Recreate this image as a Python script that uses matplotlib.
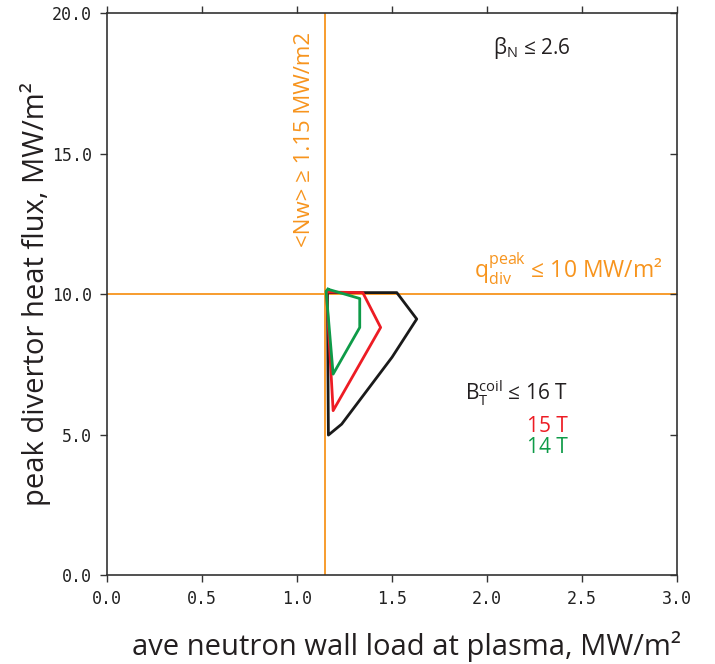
import numpy as np
import matplotlib.pyplot as plt

plt.rcParams['font.family'] = ['Open Sans', 'DejaVu Sans']
plt.rcParams['mathtext.fontset'] = 'custom'
plt.rcParams['mathtext.rm'] = 'Open Sans'
plt.rcParams['mathtext.it'] = 'Open Sans'

# operating-space boundaries (x: wall load, y: divertor heat flux)
bt16_x = [1.16, 1.525, 1.63, 1.50, 1.235, 1.165, 1.16]
bt16_y = [10.05, 10.05, 9.11, 7.75, 5.37, 4.98, 10.05]
bt15_x = [1.155, 1.346, 1.44, 1.19, 1.155]
bt15_y = [10.07, 10.05, 8.81, 5.85, 10.07]
bt14_x = [1.163, 1.33, 1.33, 1.19, 1.153, 1.163]
bt14_y = [10.17, 9.84, 8.81, 7.15, 10.10, 10.17]

nw_limit = 1.145
qdiv_limit = 10.0
xticks = [0.0, 0.5, 1.0, 1.5, 2.0, 2.5, 3.0]
yticks = [0.0, 5.0, 10.0, 15.0, 20.0]

orange = "#F7941D"
red = "#ED1C24"
green = "#0E9B48"

fig = plt.figure(figsize=(7.15, 6.64), dpi=100)
ax = fig.add_axes([0.1497, 0.1340, 0.7972, 0.8464])

ax.axvline(nw_limit, color=orange, lw=1.3, zorder=1)
ax.axhline(qdiv_limit, color=orange, lw=1.3, zorder=1)

ax.plot(bt16_x, bt16_y, color="#1a1a1a", lw=2.0, zorder=3)
ax.plot(bt15_x, bt15_y, color=red, lw=2.0, zorder=3)
ax.plot(bt14_x, bt14_y, color=green, lw=2.0, zorder=4)

ax.set_xlim(0, 3)
ax.set_ylim(0, 20)
ax.set_xticks(xticks)
ax.set_yticks(yticks)
ax.set_xticklabels([f"{v:.1f}" for v in xticks], family="DejaVu Sans Mono",
                   fontsize=12, color="#222222")
ax.set_yticklabels([f"{v:.1f}" for v in yticks], family="DejaVu Sans Mono",
                   fontsize=12, color="#222222")
ax.tick_params(axis="both", which="both", direction="out", length=5,
               width=1.0, color="#333333", pad=6)
ax.tick_params(axis="x", top=True)
ax.tick_params(axis="y", right=True)
for t in ax.yaxis.get_major_ticks():
    t.tick2line.set_marker(0)  # right ticks point inward
for s in ax.spines.values():
    s.set_color("#333333")
    s.set_linewidth(1.2)

ax.set_xlabel("ave neutron wall load at plasma, MW/m²", fontsize=21,
              color="#231f20", va="center")
ax.set_ylabel("peak divertor heat flux, MW/m²", fontsize=21,
              color="#231f20", va="center")
ax.xaxis.set_label_coords(0.526, -0.128)
ax.yaxis.set_label_coords(-0.125, 0.5)

ax.text(1.04, 15.5, "<Nw> ≥ 1.15 MW/m2", rotation=90, color=orange,
        fontsize=16, ha="center", va="center")
ax.text(2.03, 18.75, r"$\beta_\mathrm{N}$ ≤ 2.6", color="#231f20",
        fontsize=15, ha="left", va="center")
ax.text(2.92, 10.57, r"$\mathrm{q_{div}^{peak}}$ ≤ 10 MW/m²", color=orange,
        fontsize=16.5, ha="right", va="baseline")
ax.text(2.426, 6.23, r"$\mathrm{B_T^{coil}}$ ≤ 16 T", color="#231f20",
        fontsize=15, ha="right", va="baseline")
ax.text(2.426, 5.09, "15 T", color=red, fontsize=15, ha="right", va="baseline")
ax.text(2.426, 4.34, "14 T", color=green, fontsize=15, ha="right", va="baseline")

plt.savefig("out.png", dpi=100)
